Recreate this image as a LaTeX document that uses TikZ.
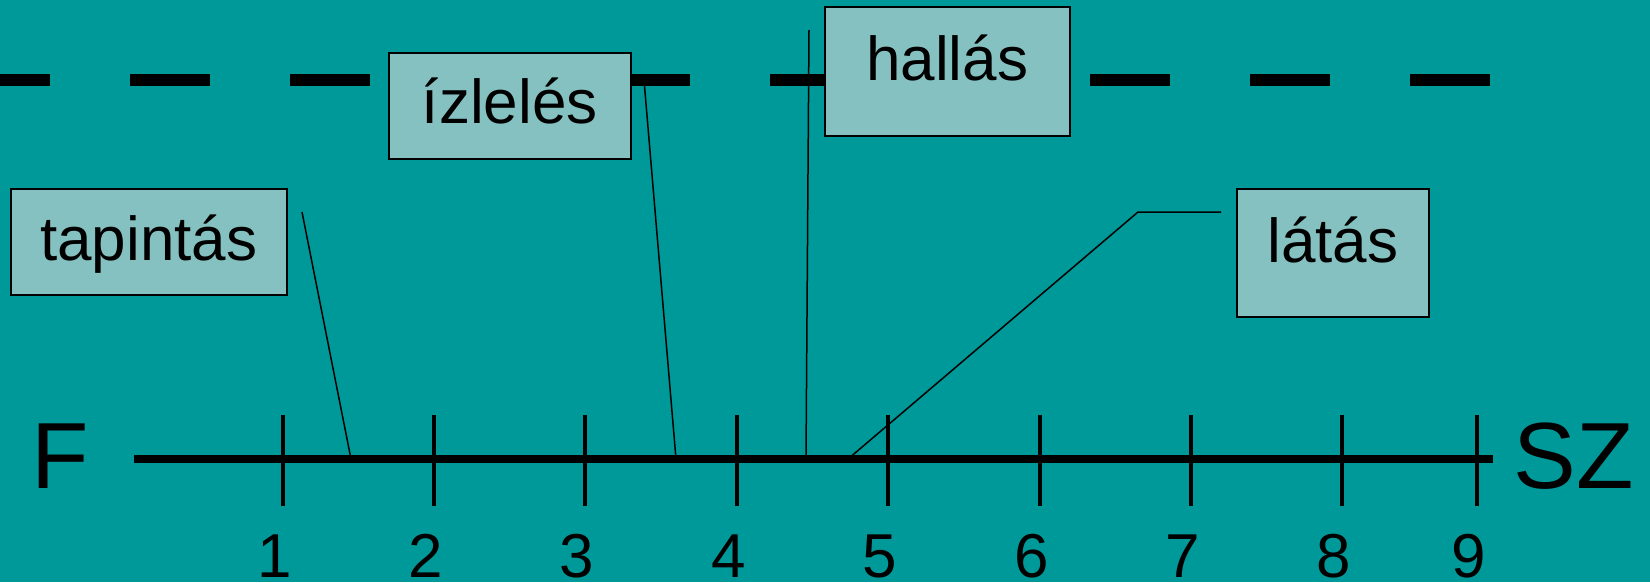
\documentclass[tikz,border=0pt]{standalone}
\usepackage{fontspec}
\setmainfont{Liberation Sans}
\definecolor{bg}{RGB}{0,153,153}
\definecolor{boxfill}{RGB}{133,193,192}
\tikzset{
  sense/.style={draw=black, line width=1.5pt, fill=boxfill, inner sep=0pt, anchor=north west, font=\fontsize{62}{74}\selectfont},
  callout/.style={line width=1.5pt},
  tick/.style={line width=4pt},
  big/.style={inner sep=0pt, anchor=base, font=\fontsize{94}{110}\selectfont},
  num/.style={inner sep=0pt, anchor=base, font=\fontsize{62}{74}\selectfont}
}
\begin{document}
\begin{tikzpicture}[x=1pt,y=-1pt]
	\fill[bg] (0,0) rectangle (1650,582);
	\useasboundingbox (0,0) rectangle (1650,582);
	\draw[line width=12pt, dash pattern=on 80pt off 80pt, dash phase=30pt] (0,80) --(1490,80);
	\coordinate (izleles-c) at (644,80);
	\coordinate (hallas-c) at (809,30);
	\coordinate (tapintas-c) at (302,212);
	\coordinate (latas-c) at (1221,212);
	\coordinate (latas-k) at (1138,212);
	\node[sense, minimum width=242pt, text height=71pt, text depth=35pt] (izleles) at (388,52) {ízlelés};
	\node[sense, minimum width=245pt, text height=74pt, text depth=55pt] (hallas) at (824,6) {hallás};
	\node[sense, minimum width=276pt, text height=72pt, text depth=34pt] (tapintas) at (10,188) {tapintás};
	\node[sense, minimum width=192pt, text height=74pt, text depth=54pt] (latas) at (1236,188) {látás};
	% axis
	\coordinate (F-end) at (134,459);
	\coordinate (SZ-end) at (1493,459);
	\draw[line width=8pt] (F-end) --(SZ-end);
	\node[big] (F) at (60,488) {F};
	\node[big] (SZ) at (1574,488) {SZ};
	\foreach \x [count=\i] in {283,434,585,737,888,1040,1191,1342,1477} {
		\draw[tick] (\x,415) --(\x,506);
		\node[num] (n\i) at (\x-8,577) {\i};
	}
	\coordinate (a-tap) at (351,459);
	\coordinate (a-izl) at (676,459);
	\coordinate (a-hal) at (806,459);
	\coordinate (a-lat) at (848,459);
	\draw[callout] (tapintas-c) --(a-tap);
	\draw[callout] (izleles-c) --(a-izl);
	\draw[callout] (hallas-c) --(a-hal);
	\draw[callout] (latas-c) --(latas-k) --(a-lat);
\end{tikzpicture}
\end{document}
